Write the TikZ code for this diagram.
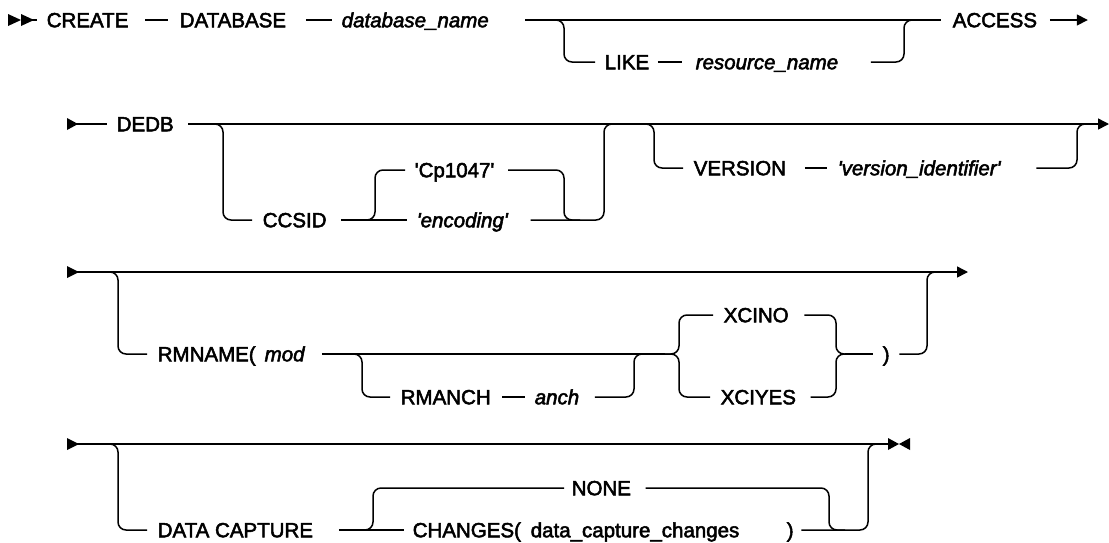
\documentclass[tikz,border=0pt]{standalone}
\usepackage{fontspec}
\setmainfont{Liberation Sans}[FakeBold=2.5]
\usetikzlibrary{arrows.meta}
\newcommand{\sq}{\textquotesingle}
\begin{document}
\begin{tikzpicture}[x=1pt,y=-1pt, line width=1.5pt,
  kw/.style={anchor=west, inner sep=0pt, text height=14.5pt, text depth=0pt, font=\fontsize{20.5}{24}\selectfont},
  var/.style={kw, font=\fontsize{20.5}{24}\selectfont\itshape},
  rc/.style={rounded corners=8pt},
  tip/.style={-{Triangle[length=11pt,width=11pt]}}]
\useasboundingbox (0,0) rectangle (1109,542);

% ---------- Row 1 ----------
\fill (8,14) -- (21,20) -- (8,26) -- cycle;
\fill (21,14) -- (34,20) -- (21,26) -- cycle;
\coordinate (r1s) at (21,20);
\node[kw] (create) at (46,20) {CREATE};
\node[kw] (database) at (179,20) {DATABASE};
\node[var] (dbname) at (341,20) {database\_name};
\node[var] (resname) at (695,62) {resource\_name};
\node[kw] (like) at (604,62) {LIKE};
\node[kw] (access) at (952,20) {ACCESS};
\draw (r1s) -- (37,20);
\draw ([xshift=16]create.east) -- ([xshift=-11]database.west);
\draw ([xshift=19]database.east) -- ([xshift=-9]dbname.west);
\draw (525,20) -- ([xshift=-11]access.west);
\draw[rc] (548,20) -| (564,62) -- ([xshift=-9]like.west);
\draw ([xshift=8]like.east) -- ([xshift=-13]resname.west);
\draw[rc] ([xshift=32]resname.east) -| (904,20) -- (920,20);
\draw[tip] ([xshift=12]access.east) -- ++(38,0);

% ---------- Row 2 ----------
\fill (67,118) -- (78,124) -- (67,130) -- cycle;
\coordinate (r2s) at (72,124);
\node[kw] (dedb) at (116,124) {DEDB};
\node[kw] (ccsid) at (262,220) {CCSID};
\node[kw] (cp) at (414,170) {\sq Cp1047\sq};
\node[var] (enc) at (416,220) {\sq encoding\sq};
\node[kw] (version) at (693,168) {VERSION};
\node[var] (verid) at (837,168) {\sq version\_identifier\sq};
\draw (r2s) -- ([xshift=-9]dedb.west);
\draw[tip] ([xshift=14]dedb.east) -- (1109,124);
\draw[rc] (205,124) -| (223,220) -- ([xshift=-10]ccsid.west);
\draw ([xshift=14]ccsid.east) -- ([xshift=-9]enc.west);
\draw[rc] (360,220) -| (375,170) -- ([xshift=-9]cp.west);
\draw[rc] ([xshift=13]cp.east) -| (564,220) -- (580,220);
\draw[rc] ([xshift=22]enc.east) -| (604,124) -- (620,124);
\draw[rc] (636,124) -| (654,168) -- ([xshift=-10]version.west);
\draw ([xshift=18]version.east) -- ([xshift=-10]verid.west);
\draw[rc] ([xshift=35]verid.east) -| (1077,124) -- (1090,124);

% ---------- Row 3 ----------
\fill (67,266) -- (79,272) -- (67,278) -- cycle;
\coordinate (r3s) at (72,272);
\node[kw] (rmname) at (157,354) {RMNAME(\hspace{9pt}\textit{mod}};
\node[kw] (rmanch) at (400,397) {RMANCH};
\node[var] (anch) at (534,397) {anch};
\node[kw] (xcino) at (723,315) {XCINO};
\node[kw] (xciyes) at (720,397) {XCIYES};
\node[kw] (rparen) at (882,354) {)};
\draw[tip] (r3s) -- (968,272);
\draw[rc] (100,272) -| (118,354) -- ([xshift=-10]rmname.west);
\draw ([xshift=16]rmname.east) -- (665,354);
\draw[rc] (344,354) -| (362,397) -- ([xshift=-10]rmanch.west);
\draw ([xshift=11]rmanch.east) -- ([xshift=-9]anch.west);
\draw[rc] ([xshift=15]anch.east) -| (634,354) -- (650,354);
\draw[rc] (660,354) -| (679,315) -- ([xshift=-10]xcino.west);
\draw[rc] (660,354) -| (679,397) -- ([xshift=-10]xciyes.west);
\draw[rc] ([xshift=15]xcino.east) -| (836,354) -- (850,354);
\draw[rc] ([xshift=14]xciyes.east) -| (836,354) -- (850,354);
\draw (845,354) -- ([xshift=-9]rparen.west);
\draw[rc] ([xshift=9]rparen.east) -| (927,272) -- (940,272);

% ---------- Row 4 ----------
\fill (67,438) -- (79,444) -- (67,450) -- cycle;
\coordinate (r4s) at (72,444);
\coordinate (r4e) at (888,444);
\fill (888,438) -- (899,444) -- (888,450) -- cycle;
\fill (910,438) -- (899,444) -- (910,450) -- cycle;
\node[kw] (datacap) at (157,530) {DATA CAPTURE};
\node[kw] (none) at (571,488) {NONE};
\node[kw] (changes) at (412,530) {CHANGES(};
\node[kw] (dcc) at (530,530) {data\_capture\_changes};
\node[kw] (rp2) at (786,530) {)};
\draw (r4s) -- (r4e);
\draw[rc] (100,444) -| (118,530) -- ([xshift=-10]datacap.west);
\draw ([xshift=25]datacap.east) -- ([xshift=-8]changes.west);
\draw[rc] (355,530) -| (373,488) -- ([xshift=-7]none.west);
\draw[rc] ([xshift=14]none.east) -| (829,530) -- (845,530);
\draw[rc] ([xshift=7]rp2.east) -| (868,444) -- (880,444);
\end{tikzpicture}
\end{document}
